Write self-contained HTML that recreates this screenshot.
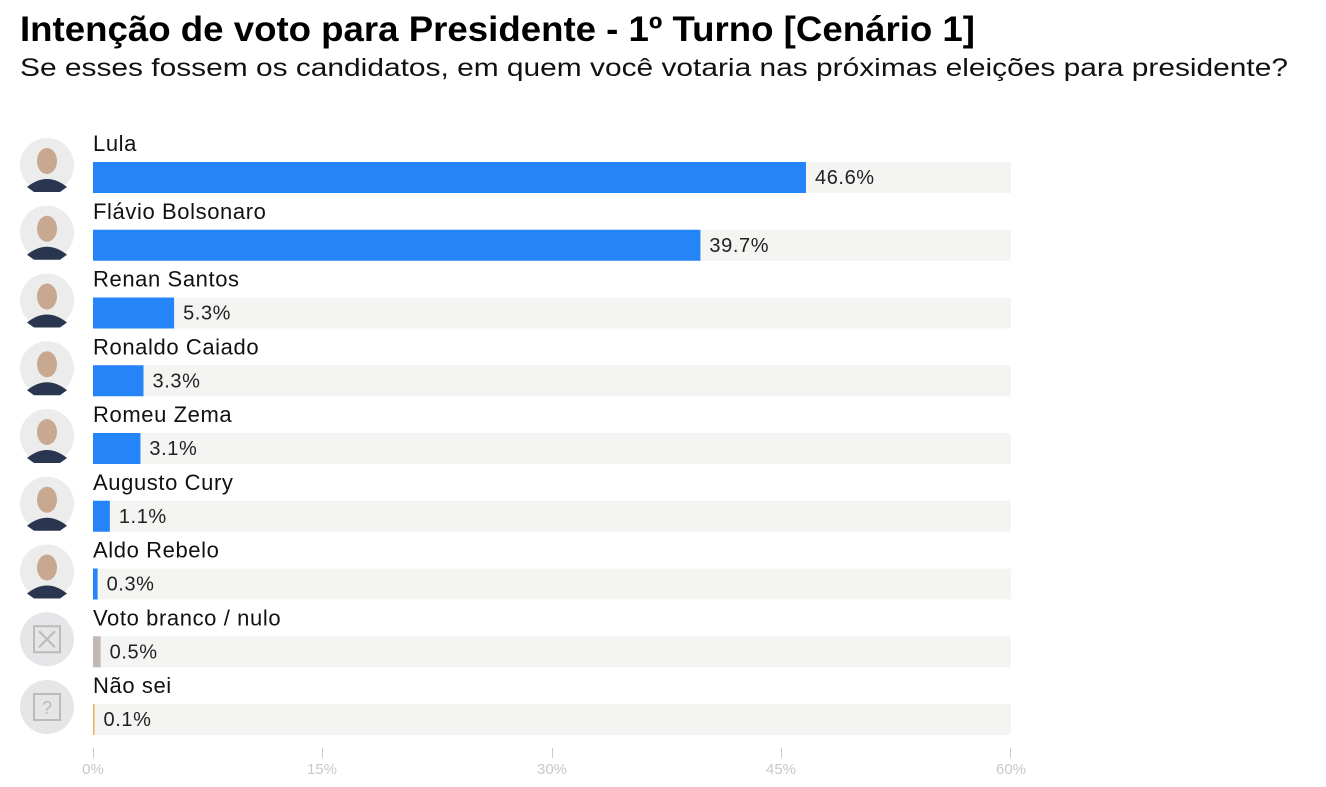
<!DOCTYPE html>
<html><head><meta charset="utf-8"><style>
body{margin:0;background:#fff;}
svg{display:block;font-family:"Liberation Sans",sans-serif;}
</style></head><body>
<svg width="1326" height="787" viewBox="0 0 1326 787">
<text x="20" y="41" font-size="35" font-weight="bold" fill="#000" textLength="955" lengthAdjust="spacingAndGlyphs">Intenção de voto para Presidente - 1º Turno [Cenário 1]</text>
<text x="20" y="76" font-size="25" fill="#111" textLength="1268" lengthAdjust="spacingAndGlyphs">Se esses fossem os candidatos, em quem você votaria nas próximas eleições para presidente?</text>
<g id="rows"></g>
<g stroke="#ccc" stroke-width="1">
<line x1="93.5" y1="748" x2="93.5" y2="758"/><line x1="322.5" y1="748" x2="322.5" y2="758"/><line x1="552.5" y1="748" x2="552.5" y2="758"/><line x1="781.5" y1="748" x2="781.5" y2="758"/><line x1="1010.5" y1="748" x2="1010.5" y2="758"/>
</g>
<g font-size="15" fill="#c8c8c8" text-anchor="middle">
<text x="93" y="774">0%</text><text x="322" y="774">15%</text><text x="552" y="774">30%</text><text x="781" y="774">45%</text><text x="1011" y="774">60%</text>
</g>
</svg>
<script>
var d=[["Lula",46.6,"#2584f8"],["Flávio Bolsonaro",39.7,"#2584f8"],["Renan Santos",5.3,"#2584f8"],["Ronaldo Caiado",3.3,"#2584f8"],["Romeu Zema",3.1,"#2584f8"],["Augusto Cury",1.1,"#2584f8"],["Aldo Rebelo",0.3,"#2584f8"],["Voto branco / nulo",0.5,"#c4b8b4"],["Não sei",0.1,"#f0b060"]];
var s="";
d.forEach(function(r,i){
 var y=162+i*67.75; var w=Math.max(r[1]*15.3,1.5);
 var cy=y+3;
 s+='<circle cx="47" cy="'+cy+'" r="27" fill="'+(i<7?'#ececec':'#e6e6e8')+'"/>';
 if(i<7){
  s+='<ellipse cx="47" cy="'+(cy-4)+'" rx="10" ry="13" fill="#c9a892"/>';
  s+='<path d="M27 '+(cy+22)+' Q47 '+(cy+6)+' 67 '+(cy+22)+' L60 '+(cy+27)+' L34 '+(cy+27)+' Z" fill="#2a3550"/>';
 } else if(i==7){
  s+='<rect x="34" y="'+(cy-13)+'" width="26" height="26" fill="none" stroke="#bbb" stroke-width="2"/><path d="M39 '+(cy-8)+' L55 '+(cy+8)+' M55 '+(cy-8)+' L39 '+(cy+8)+'" stroke="#bbb" stroke-width="2"/>';
 } else {
  s+='<rect x="34" y="'+(cy-13)+'" width="26" height="26" fill="none" stroke="#bbb" stroke-width="2"/><text x="47" y="'+(cy+7)+'" font-size="18" fill="#bbb" text-anchor="middle">?</text>';
 }
 s+='<text x="93" y="'+(y-11)+'" font-size="22" letter-spacing="0.6" fill="#111">'+r[0]+'</text>';
 s+='<rect x="93" y="'+y+'" width="918" height="31" fill="#f4f4f2"/>';
 s+='<rect x="93" y="'+y+'" width="'+w+'" height="31" fill="'+r[2]+'"/>';
 s+='<text x="'+(93+w+9)+'" y="'+(y+22)+'" font-size="20" letter-spacing="0.6" fill="#222">'+r[1].toFixed(1)+'%</text>';
});
document.getElementById("rows").innerHTML=s;
</script>
</body></html>
